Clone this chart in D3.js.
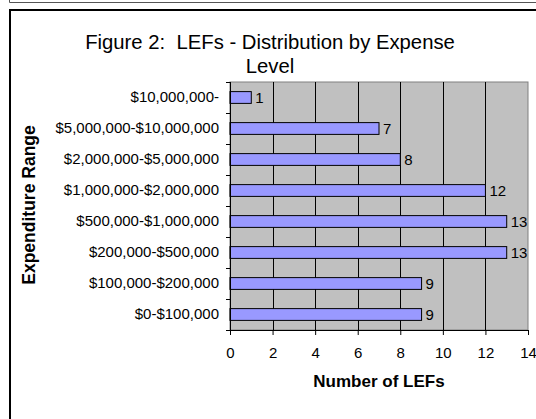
<!DOCTYPE html>
<html>
<head>
<meta charset="utf-8">
<script src="https://cdn.jsdelivr.net/npm/d3@7"></script>
<style>
  body { margin: 0; background: #fff; }
  text { font-family: Arial, "Liberation Sans", sans-serif; fill: #000; }
</style>
</head>
<body>
<script>
  // chart data
  const categories = ["$10,000,000-", "$5,000,000-$10,000,000", "$2,000,000-$5,000,000",
    "$1,000,000-$2,000,000", "$500,000-$1,000,000", "$200,000-$500,000",
    "$100,000-$200,000", "$0-$100,000"];
  const values = [1, 7, 8, 12, 13, 13, 9, 9];
  const xTicks = [0, 2, 4, 6, 8, 10, 12, 14];
  const titleLines = ["Figure 2:  LEFs - Distribution by Expense", "Level"];

  const w = 536, h = 419;
  const plot = {left: 230, right: 528, top: 82, bottom: 330};

  const svg = d3.select("body")
    .append("svg")
    .attr("width", w)
    .attr("height", h);

  // outer frames
  svg.append("path")
    .attr("d", "M9.5,0 V2.5 H536")
    .attr("fill", "none")
    .attr("stroke", "#555")
    .attr("stroke-width", 1);
  svg.append("path")
    .attr("d", "M10,419 V10 H536")
    .attr("fill", "none")
    .attr("stroke", "#000")
    .attr("stroke-width", 2);

  const xScale = d3.scaleLinear()
    .domain([0, 14])
    .range([plot.left, plot.right]);

  const yScale = d3.scaleBand()
    .domain(categories)
    .range([plot.top, plot.bottom])
    .paddingInner(0.62)
    .paddingOuter(0.31);

  // plot background
  svg.append("rect")
    .attr("x", plot.left)
    .attr("y", plot.top)
    .attr("width", plot.right - plot.left)
    .attr("height", plot.bottom - plot.top)
    .attr("fill", "#c0c0c0")
    .attr("stroke", "#808080")
    .attr("stroke-width", 1);

  // gridlines
  svg.selectAll(".grid")
    .data(xTicks.slice(1, -1))
    .enter()
    .append("line")
    .attr("class", "grid")
    .attr("x1", d => Math.round(xScale(d)) + 0.5)
    .attr("x2", d => Math.round(xScale(d)) + 0.5)
    .attr("y1", plot.top)
    .attr("y2", plot.bottom)
    .attr("stroke", "#000")
    .attr("stroke-width", 1);

  // bars
  svg.selectAll(".bar")
    .data(values)
    .enter()
    .append("rect")
    .attr("class", "bar")
    .attr("x", xScale(0))
    .attr("y", (d, i) => yScale(categories[i]))
    .attr("width", d => xScale(d) - xScale(0))
    .attr("height", yScale.bandwidth())
    .attr("fill", "#9999ff")
    .attr("stroke", "#000")
    .attr("stroke-width", 1);

  // value labels
  svg.selectAll(".val")
    .data(values)
    .enter()
    .append("text")
    .attr("class", "val")
    .attr("x", d => xScale(d) + 4)
    .attr("y", (d, i) => yScale(categories[i]) + yScale.bandwidth() / 2)
    .attr("dy", "0.36em")
    .style("font-size", "15px")
    .text(d => d);

  // x axis
  const xAxis = d3.axisBottom(xScale)
    .tickValues(xTicks)
    .tickSize(5)
    .tickPadding(12);
  const gx = svg.append("g")
    .attr("transform", "translate(0," + plot.bottom + ")")
    .call(xAxis);
  gx.select(".domain").attr("stroke", "#000").attr("d", "M" + plot.left + ",0.5H" + plot.right);
  gx.selectAll("text").style("font-size", "15px").style("font-family", "Arial, 'Liberation Sans', sans-serif");

  // y axis with ticks at category boundaries
  const yAxis = d3.axisLeft(yScale).tickSize(0).tickPadding(11);
  const gy = svg.append("g")
    .attr("transform", "translate(" + plot.left + ",0)")
    .call(yAxis);
  gy.select(".domain").attr("stroke", "#000").attr("d", "M0.5," + plot.top + "V" + (plot.bottom + 4));
  gy.selectAll("text").style("font-size", "15px").style("font-family", "Arial, 'Liberation Sans', sans-serif");

  const step = yScale.step();
  svg.selectAll(".ytick")
    .data(d3.range(categories.length + 1))
    .enter()
    .append("line")
    .attr("class", "ytick")
    .attr("x1", plot.left - 4)
    .attr("x2", plot.left)
    .attr("y1", i => Math.round(plot.top + i * step) + 0.5)
    .attr("y2", i => Math.round(plot.top + i * step) + 0.5)
    .attr("stroke", "#000");

  // title
  svg.append("text")
    .attr("x", 270)
    .attr("y", 49)
    .attr("text-anchor", "middle")
    .style("font-size", "20.3px")
    .style("white-space", "pre")
    .selectAll("tspan")
    .data(titleLines)
    .enter()
    .append("tspan")
    .attr("x", 270)
    .attr("dy", (d, i) => i == 0 ? 0 : 24)
    .text(d => d);

  // axis titles
  svg.append("text")
    .attr("x", (plot.left + plot.right) / 2)
    .attr("y", 387)
    .attr("text-anchor", "middle")
    .style("font-size", "17px")
    .style("font-weight", "bold")
    .text("Number of LEFs");

  svg.append("text")
    .attr("transform", "translate(35,205) rotate(-90)")
    .attr("text-anchor", "middle")
    .style("font-size", "17.5px")
    .style("font-weight", "bold")
    .text("Expenditure Range");
</script>
</body>
</html>
